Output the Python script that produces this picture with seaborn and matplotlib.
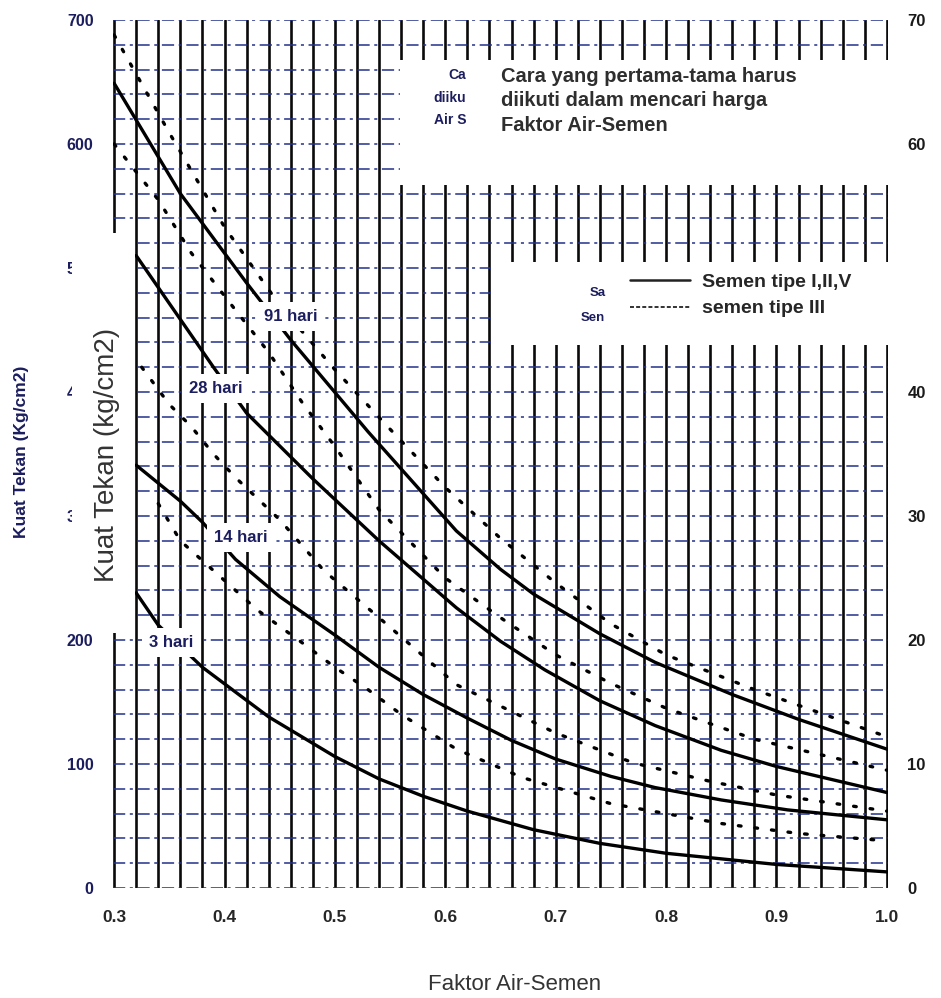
import numpy as np
import pandas as pd
import seaborn as sns
import matplotlib.pyplot as plt
from matplotlib.lines import Line2D
from matplotlib.patches import Rectangle
from matplotlib.ticker import MultipleLocator, FixedLocator

# Semen tipe I, II, V (garis penuh)
x_3 = [0.32, 0.34, 0.38, 0.44, 0.50, 0.54, 0.58, 0.62, 0.68, 0.74, 0.80, 0.90, 1.00]
y_3 = [238, 212, 178, 138, 106, 88, 74, 62, 47, 36, 28, 19, 13]
x_14 = [0.32, 0.36, 0.38, 0.41, 0.45, 0.50, 0.54, 0.58, 0.62, 0.66, 0.70, 0.75, 0.79, 0.85, 0.91, 1.00]
y_14 = [341, 312, 295, 265, 235, 204, 178, 156, 137, 119, 104, 90, 81, 71, 63, 55]
x_28 = [0.32, 0.39, 0.42, 0.48, 0.54, 0.61, 0.65, 0.69, 0.74, 0.79, 0.85, 0.90, 1.00]
y_28 = [510, 420, 383, 330, 280, 226, 199, 176, 151, 131, 111, 98, 77]
x_91 = [0.30, 0.36, 0.42, 0.46, 0.53, 0.61, 0.65, 0.68, 0.74, 0.79, 0.86, 0.92, 1.00]
y_91 = [649, 560, 488, 442, 368, 288, 257, 237, 205, 182, 156, 136, 112]

# Semen tipe III (garis titik-titik)
x_3_iii = [0.34, 0.36, 0.39, 0.43, 0.47, 0.50, 0.53, 0.56, 0.61, 0.67, 0.75, 0.85, 0.92, 1.00]
y_3_iii = [310, 280, 256, 224, 198, 178, 160, 140, 112, 89, 68, 52, 44, 38]
x_14_iii = [0.325, 0.35, 0.37, 0.39, 0.41, 0.45, 0.49, 0.54, 0.61, 0.70, 0.77, 0.84, 0.90, 1.00]
y_14_iii = [420, 390, 372, 350, 331, 297, 256, 218, 164, 125, 101, 86, 75, 62]
x_28_iii = [0.30, 0.34, 0.37, 0.41, 0.44, 0.47, 0.50, 0.54, 0.60, 0.65, 0.70, 0.75, 0.80, 0.88, 1.00]
y_28_iii = [600, 555, 512, 466, 432, 392, 356, 305, 250, 218, 188, 165, 145, 120, 95]
x_91_iii = [0.30, 0.35, 0.40, 0.45, 0.50, 0.55, 0.60, 0.65, 0.70, 0.75, 0.80, 0.88, 1.00]
y_91_iii = [688, 609, 533, 470, 418, 370, 323, 282, 246, 213, 188, 160, 122]

umur_labels = ['3 hari', '14 hari', '28 hari', '91 hari']
label_x = [0.352, 0.415, 0.392, 0.46]
label_y = [198, 283, 403, 461]

tipe_labels = ['Semen tipe I,II,V', 'semen tipe III']
left_ticks = [0, 100, 200, 300, 400, 500, 600, 700]
right_ticks = [0, 10, 20, 30, 40, 60, 70]
x_ticks = [0.3, 0.4, 0.5, 0.6, 0.7, 0.8, 0.9, 1.0]

rows = []
for umur, xs, ys in zip(umur_labels, [x_3, x_14, x_28, x_91], [y_3, y_14, y_28, y_91]):
    for xv, yv in zip(xs, ys):
        rows.append((xv, yv, umur, tipe_labels[0]))
for umur, xs, ys in zip(umur_labels, [x_3_iii, x_14_iii, x_28_iii, x_91_iii],
                        [y_3_iii, y_14_iii, y_28_iii, y_91_iii]):
    for xv, yv in zip(xs, ys):
        rows.append((xv, yv, umur + ' III', tipe_labels[1]))
df = pd.DataFrame(rows, columns=['fas', 'kuat', 'umur', 'tipe'])

sns.set_style('white')
plt.rcParams['font.family'] = ['Liberation Sans', 'DejaVu Sans']

fig = plt.figure(figsize=(9.41, 9.98), dpi=100)
ax = fig.add_axes([113 / 941, 110 / 998, 775 / 941, 868 / 998])

navy = '#1b1d5e'

# grid
ax.set_xlim(0.299, 1.001)
ax.set_ylim(0, 700)
ax.xaxis.set_major_locator(FixedLocator(x_ticks))
ax.xaxis.set_minor_locator(MultipleLocator(0.02))
ax.yaxis.set_major_locator(FixedLocator(left_ticks))
ax.yaxis.set_minor_locator(MultipleLocator(20))
ax.xaxis.grid(True, which='both', color='#0a0a0a', lw=1.9, zorder=0)
ax.yaxis.grid(True, which='both', color='#23308a', lw=1.1, ls=(0, (8, 3, 2, 3)), zorder=0)
ax.set_axisbelow(True)
for s in ax.spines.values():
    s.set_visible(False)

# white patches like the scanned paste-ups
ax.add_patch(Rectangle((0.559, 567), 0.45, 101, facecolor='white', edgecolor='none', zorder=1))
ax.add_patch(Rectangle((0.641, 438), 0.37, 67, facecolor='white', edgecolor='none', zorder=1))

sns.lineplot(data=df, x='fas', y='kuat', units='umur', estimator=None, style='tipe',
             dashes={tipe_labels[0]: '', tipe_labels[1]: (0.8, 4.2)},
             color='black', lw=2.4, dash_capstyle='round', legend=False, ax=ax, zorder=3)

for txt, lx, ly in zip(umur_labels, label_x, label_y):
    ax.text(lx, ly, txt, ha='center', va='center', fontsize=12, fontweight='bold', color=navy,
            zorder=5, bbox=dict(facecolor='white', edgecolor='none', pad=5))

ax.set_xticklabels([f'{v:.1f}' for v in x_ticks])
ax.tick_params(axis='x', which='both', length=0, pad=16, labelsize=12.5, labelcolor='#262626')
ax.tick_params(axis='y', which='both', length=0, pad=14, labelsize=11.5, labelcolor=navy)
for lab in ax.get_xticklabels() + ax.get_yticklabels():
    lab.set_fontweight('bold')
ax.set_xlabel('')
ax.set_ylabel('')

ax2 = ax.twinx()
ax2.set_ylim(0, 70)
ax2.set_yticks(right_ticks)
ax2.tick_params(axis='y', length=0, pad=14, labelsize=12, labelcolor='#1a1a1a')
for lab in ax2.get_yticklabels():
    lab.set_fontweight('bold')
for s in ax2.spines.values():
    s.set_visible(False)

# text block
ax.text(0.650, 662, 'Cara yang pertama-tama harus\ndiikuti dalam mencari harga\nFaktor Air-Semen',
        ha='left', va='top', fontsize=14.5, fontweight='bold', color='#2e2e2e', linespacing=1.35, zorder=6)
ax.text(0.619, 661, 'Ca\ndiiku\nAir S', ha='right', va='top', fontsize=10, fontweight='bold',
        color=navy, linespacing=1.75, zorder=6)
ax.text(0.745, 480, 'Sa', ha='right', va='center', fontsize=9.5, fontweight='bold', color=navy, zorder=6)
ax.text(0.745, 460, 'Sen', ha='right', va='center', fontsize=9.5, fontweight='bold', color=navy, zorder=6)

handles = [Line2D([], [], color='#222222', lw=1.8),
           Line2D([], [], color='#222222', lw=1.3, ls=(0, (2.2, 1.2)))]
ax.legend(handles, tipe_labels, loc='upper left', bbox_to_anchor=(0.667, 0.708), frameon=False,
          borderaxespad=0, borderpad=0, handlelength=3.1, handletextpad=0.6, labelspacing=0.45,
          prop={'size': 14, 'weight': 'bold'})

# strip that hides the left tick labels partly (scan paste-up)
fig.add_artist(Rectangle((72 / 941, 1 - 633 / 998), 63 / 941, 400 / 998, transform=fig.transFigure,
                         facecolor='white', edgecolor='none', zorder=10))
fig.text(107 / 941, 1 - 455 / 998, 'Kuat Tekan (kg/cm2)', rotation=90, ha='center', va='center',
         fontsize=20, color='#333333', zorder=11)
fig.text(22 / 941, 1 - 452 / 998, 'Kuat Tekan (Kg/cm2)', rotation=90, ha='center', va='center',
         fontsize=12.5, fontweight='bold', color=navy, zorder=11)
fig.text(515 / 941, 1 - 985 / 998, 'Faktor Air-Semen', ha='center', va='center',
         fontsize=16, color='#333333')

fig.savefig('out.png', dpi=100, facecolor='white')
